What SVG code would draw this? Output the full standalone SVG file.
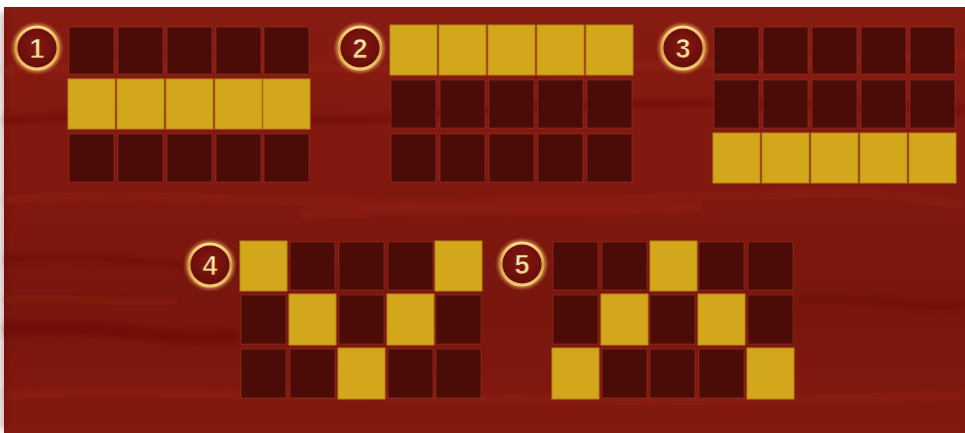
<svg xmlns="http://www.w3.org/2000/svg" width="965" height="433" viewBox="0 0 965 433">
<defs>
<linearGradient id="bg" x1="0" y1="0" x2="0" y2="1">
<stop offset="0" stop-color="#861b11"/>
<stop offset="0.45" stop-color="#80180f"/>
<stop offset="0.7" stop-color="#78160d"/>
<stop offset="1" stop-color="#84190f"/>
</linearGradient>
<radialGradient id="badgeFill" cx="0.5" cy="0.45" r="0.6">
<stop offset="0" stop-color="#8a1712"/>
<stop offset="1" stop-color="#5e0c09"/>
</radialGradient>
<linearGradient id="numFill" x1="0" y1="0" x2="0" y2="1">
<stop offset="0" stop-color="#fff2c2"/>
<stop offset="1" stop-color="#f0c870"/>
</linearGradient>
<linearGradient id="ringFill" x1="0" y1="0" x2="0" y2="1">
<stop offset="0" stop-color="#ffd98a"/>
<stop offset="0.5" stop-color="#d99a3a"/>
<stop offset="1" stop-color="#f5c970"/>
</linearGradient>
<filter id="glow" x="-30%" y="-30%" width="160%" height="160%">
<feGaussianBlur stdDeviation="1.5"/>
</filter>
<filter id="soft" x="-10%" y="-50%" width="120%" height="200%">
<feGaussianBlur stdDeviation="3"/>
</filter>
</defs>
<style>
.off{fill:#4b0b07;stroke:#a3382a;stroke-width:1;stroke-opacity:0.55}
.on{fill:#d3a71b;stroke:#b9841a;stroke-width:1}
.ring{fill:url(#badgeFill);stroke:url(#ringFill);stroke-width:3}
.halo{fill:none;stroke:#f7c66a;stroke-width:5;opacity:0.55}
.num{font-family:"Liberation Sans",Roboto,sans-serif;font-weight:bold;font-size:27px;fill:url(#numFill);stroke:#5a0e08;stroke-width:0.5;text-anchor:middle}
.grain{fill:none;stroke:#a8321f;stroke-opacity:0.3}
.grainD{fill:none;stroke:#5e0f08;stroke-opacity:0.4}
</style>
<rect x="0" y="0" width="965" height="433" fill="#ffffff"/>
<rect x="4" y="7" width="961" height="426" fill="url(#bg)"/>
<g id="wood" filter="url(#soft)">
<path class="grain" stroke-width="6" d="M4 70 C200 60 400 80 965 55"/>
<path class="grainD" stroke-width="8" d="M4 120 C150 110 260 130 420 115 S800 100 965 110"/>
<path class="grain" stroke-width="5" d="M4 200 C200 190 300 210 600 200 S850 190 965 205"/>
<path class="grainD" stroke-width="6" d="M4 260 C120 250 200 275 300 265"/>
<path class="grain" stroke-width="7" d="M300 215 C400 205 520 215 700 208"/>
<path class="grainD" stroke-width="14" d="M4 330 C120 320 160 345 240 335"/>
<path class="grain" stroke-width="5" d="M4 395 C200 385 500 410 965 395"/>
<path class="grainD" stroke-width="6" d="M800 300 C850 295 920 310 965 305"/>
<path class="grain" stroke-width="4" d="M4 300 C60 295 120 305 180 300"/>
<path class="grainD" stroke-width="5" d="M4 12 L4 430"/>
</g>
<g id="line1">
<g id="badge1"><circle class="halo" cx="37" cy="48" r="22" filter="url(#glow)"/><circle class="ring" cx="37" cy="48" r="21"/><text class="num" x="37" y="58">1</text></g>
<rect class="off" x="69" y="27" width="45" height="47"/><rect class="off" x="118" y="27" width="45" height="47"/><rect class="off" x="167" y="27" width="45" height="47"/><rect class="off" x="216" y="27" width="45" height="47"/><rect class="off" x="264" y="27" width="45" height="47"/>
<rect class="on" x="68" y="79" width="47" height="50"/><rect class="on" x="117" y="79" width="47" height="50"/><rect class="on" x="166" y="79" width="47" height="50"/><rect class="on" x="215" y="79" width="47" height="50"/><rect class="on" x="263" y="79" width="47" height="50"/>
<rect class="off" x="69" y="134" width="45" height="48"/><rect class="off" x="118" y="134" width="45" height="48"/><rect class="off" x="167" y="134" width="45" height="48"/><rect class="off" x="216" y="134" width="45" height="48"/><rect class="off" x="264" y="134" width="45" height="48"/>
</g>
<g id="line2">
<g id="badge2"><circle class="halo" cx="360" cy="48" r="22" filter="url(#glow)"/><circle class="ring" cx="360" cy="48" r="21"/><text class="num" x="360" y="58">2</text></g>
<rect class="on" x="390" y="25" width="47" height="50"/><rect class="on" x="439" y="25" width="47" height="50"/><rect class="on" x="488" y="25" width="47" height="50"/><rect class="on" x="537" y="25" width="47" height="50"/><rect class="on" x="586" y="25" width="47" height="50"/>
<rect class="off" x="391" y="80" width="45" height="48"/><rect class="off" x="440" y="80" width="45" height="48"/><rect class="off" x="489" y="80" width="45" height="48"/><rect class="off" x="538" y="80" width="45" height="48"/><rect class="off" x="587" y="80" width="45" height="48"/>
<rect class="off" x="391" y="134" width="45" height="48"/><rect class="off" x="440" y="134" width="45" height="48"/><rect class="off" x="489" y="134" width="45" height="48"/><rect class="off" x="538" y="134" width="45" height="48"/><rect class="off" x="587" y="134" width="45" height="48"/>
</g>
<g id="line3">
<g id="badge3"><circle class="halo" cx="683" cy="48" r="22" filter="url(#glow)"/><circle class="ring" cx="683" cy="48" r="21"/><text class="num" x="683" y="58">3</text></g>
<rect class="off" x="714" y="27" width="45" height="47"/><rect class="off" x="763" y="27" width="45" height="47"/><rect class="off" x="812" y="27" width="45" height="47"/><rect class="off" x="861" y="27" width="45" height="47"/><rect class="off" x="910" y="27" width="45" height="47"/>
<rect class="off" x="714" y="80" width="45" height="48"/><rect class="off" x="763" y="80" width="45" height="48"/><rect class="off" x="812" y="80" width="45" height="48"/><rect class="off" x="861" y="80" width="45" height="48"/><rect class="off" x="910" y="80" width="45" height="48"/>
<rect class="on" x="713" y="133" width="47" height="50"/><rect class="on" x="762" y="133" width="47" height="50"/><rect class="on" x="811" y="133" width="47" height="50"/><rect class="on" x="860" y="133" width="47" height="50"/><rect class="on" x="909" y="133" width="47" height="50"/>
</g>
<g id="line4">
<g id="badge4"><circle class="halo" cx="210" cy="265" r="22" filter="url(#glow)"/><circle class="ring" cx="210" cy="265" r="21"/><text class="num" x="210" y="275">4</text></g>
<rect class="on" x="240" y="241" width="47" height="50"/><rect class="off" x="290" y="242" width="45" height="48"/><rect class="off" x="339" y="242" width="45" height="48"/><rect class="off" x="388" y="242" width="45" height="48"/><rect class="on" x="435" y="241" width="47" height="50"/>
<rect class="off" x="241" y="295" width="45" height="49"/><rect class="on" x="289" y="294" width="47" height="51"/><rect class="off" x="339" y="295" width="45" height="49"/><rect class="on" x="387" y="294" width="47" height="51"/><rect class="off" x="436" y="295" width="45" height="49"/>
<rect class="off" x="241" y="349" width="45" height="49"/><rect class="off" x="290" y="349" width="45" height="49"/><rect class="on" x="338" y="348" width="47" height="51"/><rect class="off" x="388" y="349" width="45" height="49"/><rect class="off" x="436" y="349" width="45" height="49"/>
</g>
<g id="line5">
<g id="badge5"><circle class="halo" cx="522" cy="264" r="22" filter="url(#glow)"/><circle class="ring" cx="522" cy="264" r="21"/><text class="num" x="522" y="274">5</text></g>
<rect class="off" x="553" y="242" width="45" height="48"/><rect class="off" x="602" y="242" width="45" height="48"/><rect class="on" x="650" y="241" width="47" height="50"/><rect class="off" x="699" y="242" width="45" height="48"/><rect class="off" x="748" y="242" width="45" height="48"/>
<rect class="off" x="553" y="295" width="45" height="49"/><rect class="on" x="601" y="294" width="47" height="51"/><rect class="off" x="650" y="295" width="45" height="49"/><rect class="on" x="698" y="294" width="47" height="51"/><rect class="off" x="748" y="295" width="45" height="49"/>
<rect class="on" x="552" y="348" width="47" height="51"/><rect class="off" x="602" y="349" width="45" height="49"/><rect class="off" x="650" y="349" width="45" height="49"/><rect class="off" x="699" y="349" width="45" height="49"/><rect class="on" x="747" y="348" width="47" height="51"/>
</g>
</svg>
